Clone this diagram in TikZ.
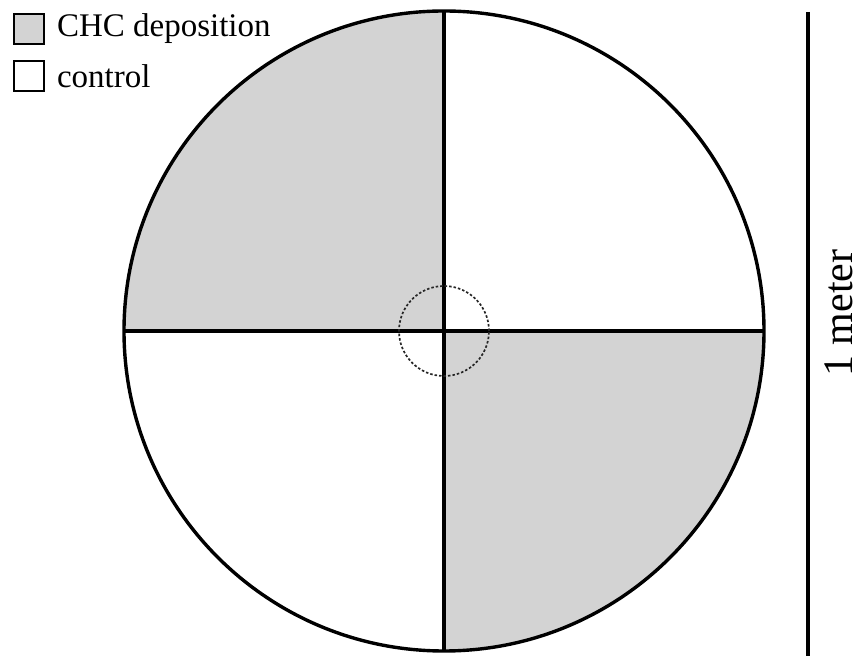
\documentclass[tikz,border=0pt]{standalone}
\usepackage{fontspec}
\setmainfont{Liberation Serif}
\usetikzlibrary{positioning, calc}
\definecolor{chcgray}{HTML}{D3D3D3}
\tikzset{
  rim/.style={line width=3.4pt, draw=black},
  cross/.style={line width=3.2pt, draw=black},
  centre/.style={line width=1.7pt, draw=black!85, dash pattern=on 2.5pt off 2pt},
  legbox/.style={draw=black, line width=1.6pt, fill=#1, minimum size=30pt, inner sep=0pt},
  legbox/.default=white,
  legtext/.style={font=\fontsize{33}{36}\selectfont, inner sep=0pt},
  scalelab/.style={font=\fontsize{42}{46}\selectfont, inner sep=0pt, rotate=90}
}
\begin{document}
\begin{tikzpicture}[x=1pt,y=1pt]
  \useasboundingbox (0,0) rectangle (862,656);
  \coordinate (c) at (444,325);
  \coordinate (n) at ($(c)+(0,320)$);
  \coordinate (s) at ($(c)+(0,-320)$);
  \coordinate (w) at ($(c)+(-320,0)$);
  \coordinate (e) at ($(c)+(320,0)$);
  % CHC deposition quadrants
  \fill[chcgray] (c) -- (w) arc[start angle=180, end angle=90, radius=320] -- cycle;
  \fill[chcgray] (c) -- (e) arc[start angle=0, end angle=-90, radius=320] -- cycle;
  % dividing lines
  \draw[cross] (n) -- (s);
  \draw[cross] (w) -- (e);
  \draw[rim] (c) circle[radius=320];
  % centre zone
  \draw[centre] (c) circle[radius=45];
  % legend
  \node[legbox=chcgray] (boxchc) at (29,627) {};
  \node[legbox] (boxctl) at (29,580) {};
  \node[legtext, right=12pt of boxchc] (labchc) {CHC deposition};
  \node[legtext, right=12pt of boxctl] (labctl) {control};
  % scale bar
  \coordinate (bartop) at (808,644);
  \coordinate (barbot) at (808,0);
  \draw[rim] (bartop) -- (barbot);
  \node[scalelab] (scale) at (839,343) {1 meter};
\end{tikzpicture}
\end{document}
